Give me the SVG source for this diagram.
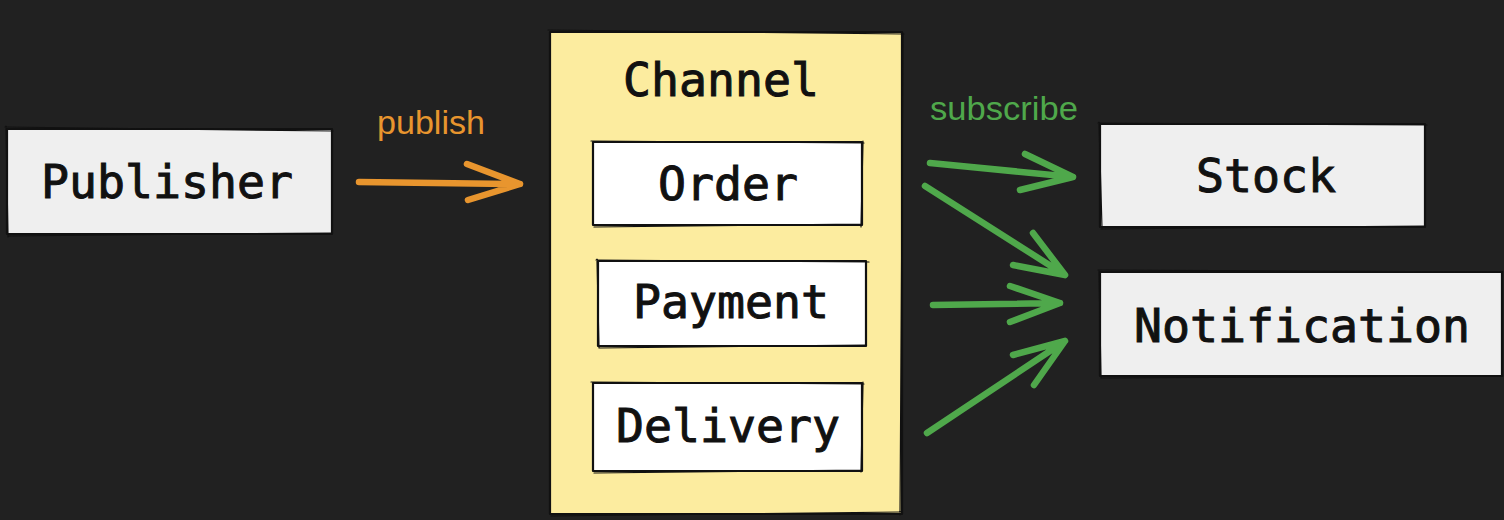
<svg xmlns="http://www.w3.org/2000/svg" width="1504" height="520" viewBox="0 0 1504 520">
  <defs>
    <style>
      .box { stroke: #111; stroke-width: 2.2; stroke-linejoin: round; }
      .sk { fill: none; stroke: #111; stroke-width: 1.2; stroke-linecap: round; }
      .grey { fill: #efefef; }
      .white { fill: #ffffff; }
      .yellow { fill: #fcec9f; }
      .mono { font-family: "DejaVu Sans Mono", "Liberation Mono", monospace; font-size: 46.5px; fill: #111; stroke: #111; stroke-width: 1; text-anchor: middle; }
      .lbl { font-family: "Liberation Sans", Arial, sans-serif; font-size: 33px; }
      .orange { stroke: #e8952e; }
      .green { stroke: #4fa84b; }
      .arr { fill: none; stroke-width: 6.5; stroke-linecap: round; stroke-linejoin: round; }
    </style>
  </defs>
  <rect x="0" y="0" width="1504" height="520" fill="#212121"/>

  <g id="publisher">
    <rect class="box grey" x="7" y="129" width="325" height="105"/>
    <path class="sk" d="M5 127 L333 131 M9 236 L331 233 M6 126 L8 237"/>
    <text class="mono" x="167" y="198">Publisher</text>
  </g>

  <g id="channel">
    <rect class="box yellow" x="550" y="32" width="352" height="482"/>
    <path class="sk" d="M548 30 L904 34 M551 516 L901 512 M903 33 L900 515"/>
    <text class="mono" x="721" y="96">Channel</text>
  </g>

  <g id="order">
    <rect class="box white" x="593" y="142" width="269" height="83"/>
    <path class="sk" d="M591 141 L864 143 M594 227 L861 224 M863 141 L861 227"/>
    <text class="mono" x="728" y="200">Order</text>
  </g>

  <g id="payment">
    <rect class="box white" x="598" y="261" width="268" height="85"/>
    <path class="sk" d="M596 260 L869 262 M599 348 L866 345 M597 259 L599 348"/>
    <text class="mono" x="731" y="318">Payment</text>
  </g>

  <g id="delivery">
    <rect class="box white" x="593" y="383" width="269" height="88"/>
    <path class="sk" d="M591 382 L864 384 M594 473 L861 470 M863 382 L861 472"/>
    <text class="mono" x="728" y="442">Delivery</text>
  </g>

  <g id="stock">
    <rect class="box grey" x="1100" y="124" width="325" height="103"/>
    <path class="sk" d="M1098 123 L1427 125 M1101 229 L1424 226 M1099 122 L1102 228"/>
    <text class="mono" x="1266" y="192">Stock</text>
  </g>

  <g id="notification">
    <rect class="box grey" x="1100" y="272" width="402" height="104"/>
    <path class="sk" d="M1098 270 L1503 272 M1101 378 L1503 376 M1099 271 L1101 377"/>
    <text class="mono" x="1302" y="342">Notification</text>
  </g>

  <g id="connectors">
    <text class="lbl" x="377" y="134" fill="#e8952e" textLength="108" lengthAdjust="spacingAndGlyphs">publish</text>
    <path class="arr orange" d="M359 182 L520 184 M467 164 L520 184 L468 200"/>

    <text class="lbl" x="930" y="120" fill="#4fa84b" textLength="148" lengthAdjust="spacingAndGlyphs">subscribe</text>
    <path class="arr green" d="M930 163 L1073 177 M1025 154 L1073 177 L1020 190"/>
    <path class="arr green" d="M925 186 L1065 275 M1033 233 L1065 275 L1013 265"/>
    <path class="arr green" d="M933 305 L1060 303 M1010 286 L1060 303 L1010 322"/>
    <path class="arr green" d="M927 433 L1065 341 M1013 355 L1065 341 L1034 385"/>
  </g>
</svg>
